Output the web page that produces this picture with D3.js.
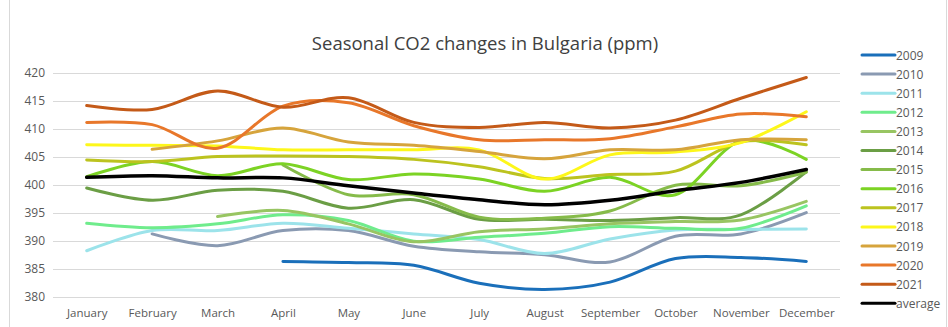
<!DOCTYPE html>
<html><head><meta charset="utf-8">
<script src="https://cdn.jsdelivr.net/npm/d3@7"></script>
<style>
body{margin:0;background:#fff;}
svg{display:block;font-family:"Open Sans","Liberation Sans",sans-serif;}
</style></head>
<body><svg id="c" width="948" height="327"></svg>
<script>
const months = ["January","February","March","April","May","June","July","August","September","October","November","December"];
const yTicks = [380,385,390,395,400,405,410,415,420];
const s2009 = [null,null,null,386.3,386.1,385.6,382.4,381.3,382.6,386.8,387.0,386.3];
const s2010 = [null,391.2,389.1,391.8,391.8,389.0,388.0,387.5,386.2,390.8,391.2,395.0];
const s2011 = [388.2,391.8,391.8,393.1,392.2,391.2,390.2,387.7,390.3,391.9,392.0,392.1];
const s2012 = [393.1,392.3,393.0,394.6,393.6,389.9,390.6,391.3,392.5,392.2,392.2,396.2];
const s2013 = [null,null,394.3,395.4,393.0,389.8,391.6,392.1,393.0,393.4,393.7,397.0];
const s2014 = [399.4,397.2,399.0,398.8,395.8,397.3,393.8,393.8,393.6,394.1,394.6,402.3];
const s2015 = [null,null,null,403.5,398.2,398.2,394.2,394.0,395.3,399.9,399.8,402.2];
const s2016 = [401.4,404.1,401.6,403.7,400.9,401.9,401.0,398.8,401.3,398.2,407.8,404.5];
const s2017 = [404.4,404.1,405.0,405.1,405.0,404.5,403.2,401.1,401.8,402.4,407.6,407.1];
const s2018 = [407.1,407.0,406.9,406.2,406.2,406.2,406.2,401.0,405.3,405.8,407.5,413.0];
const s2019 = [null,406.3,407.8,410.1,407.6,407.0,405.9,404.6,406.2,406.2,408.0,408.0];
const s2020 = [411.1,410.7,406.5,414.0,414.6,410.5,408.0,408.0,408.2,410.3,412.6,412.1];
const s2021 = [414.1,413.4,416.7,413.8,415.5,411.1,410.2,411.1,410.1,411.5,415.4,419.1];
const sAvg  = [401.3,401.6,401.2,401.2,399.8,398.5,397.3,396.4,397.2,398.9,400.4,402.7];
const seriesNames = ["2009","2010","2011","2012","2013","2014","2015","2016","2017","2018","2019","2020","2021","average"];
const seriesData = [s2009,s2010,s2011,s2012,s2013,s2014,s2015,s2016,s2017,s2018,s2019,s2020,s2021,sAvg];
const seriesColors = ["#1a6fba","#8a9ab2","#9ce3ea","#6fec8c","#98c562","#6b9e45","#86bb4a","#7cd324","#bcc31f","#fdf71a","#d6a43c","#e8772a","#c45a18","#000000"];

const svg = d3.select("#c");
// outer frame
svg.append("rect").attr("x",9.5).attr("y",-1).attr("width",937).attr("height",330)
  .attr("fill","none").attr("stroke","#d9d9d9");

const x = d3.scalePoint().domain(months).range([54,839]).padding(0.5);
const y = d3.scaleLinear().domain([380,420]).range([296.7,72.5]);

// grid
svg.append("g").selectAll("line").data(yTicks).join("line")
  .attr("x1",53).attr("x2",840).attr("y1",d=>Math.round(y(d))+0.5).attr("y2",d=>Math.round(y(d))+0.5)
  .attr("stroke","#d9d9d9").attr("stroke-width",1);

// y axis labels
const ya = svg.append("g").attr("transform","translate(45,0)")
  .call(d3.axisLeft(y).tickValues(yTicks).tickSize(0).tickPadding(0));
ya.select(".domain").remove();
ya.selectAll("text").attr("font-size",12).attr("fill","#595959").attr("font-family","'Open Sans',sans-serif");

// x axis labels
const xa = svg.append("g").attr("transform","translate(0,309)")
  .call(d3.axisBottom(x).tickSize(0).tickPadding(0));
xa.select(".domain").remove();
xa.selectAll("text").attr("font-size",11.5).attr("fill","#595959").attr("font-family","'Open Sans',sans-serif");

// title
svg.append("text").attr("x",485).attr("y",50).attr("text-anchor","middle")
  .attr("font-size",18.5).attr("fill","#404040").text("Seasonal CO2 changes in Bulgaria (ppm)");

// lines
const line = d3.line().defined(d=>d.v!=null).x(d=>x(d.m)).y(d=>y(d.v)).curve(d3.curveCardinal.tension(0));
seriesData.forEach((arr,i)=>{
  const pts = arr.map((v,j)=>({m:months[j],v}));
  svg.append("path").datum(pts).attr("d",line).attr("fill","none")
    .attr("stroke",seriesColors[i]).attr("stroke-width", i===13?3.5:3)
    .attr("stroke-linecap","round").attr("stroke-linejoin","round");
});

// legend
const lg = svg.append("g");
seriesNames.forEach((n,i)=>{
  const yy = 55 + i*19.1;
  lg.append("line").attr("x1",862).attr("x2",895).attr("y1",yy).attr("y2",yy)
    .attr("stroke",seriesColors[i]).attr("stroke-width",3).attr("stroke-linecap","round");
  lg.append("text").attr("x",896).attr("y",yy+4.5).attr("font-size",12).attr("fill","#595959").text(n);
});
</script></body></html>
